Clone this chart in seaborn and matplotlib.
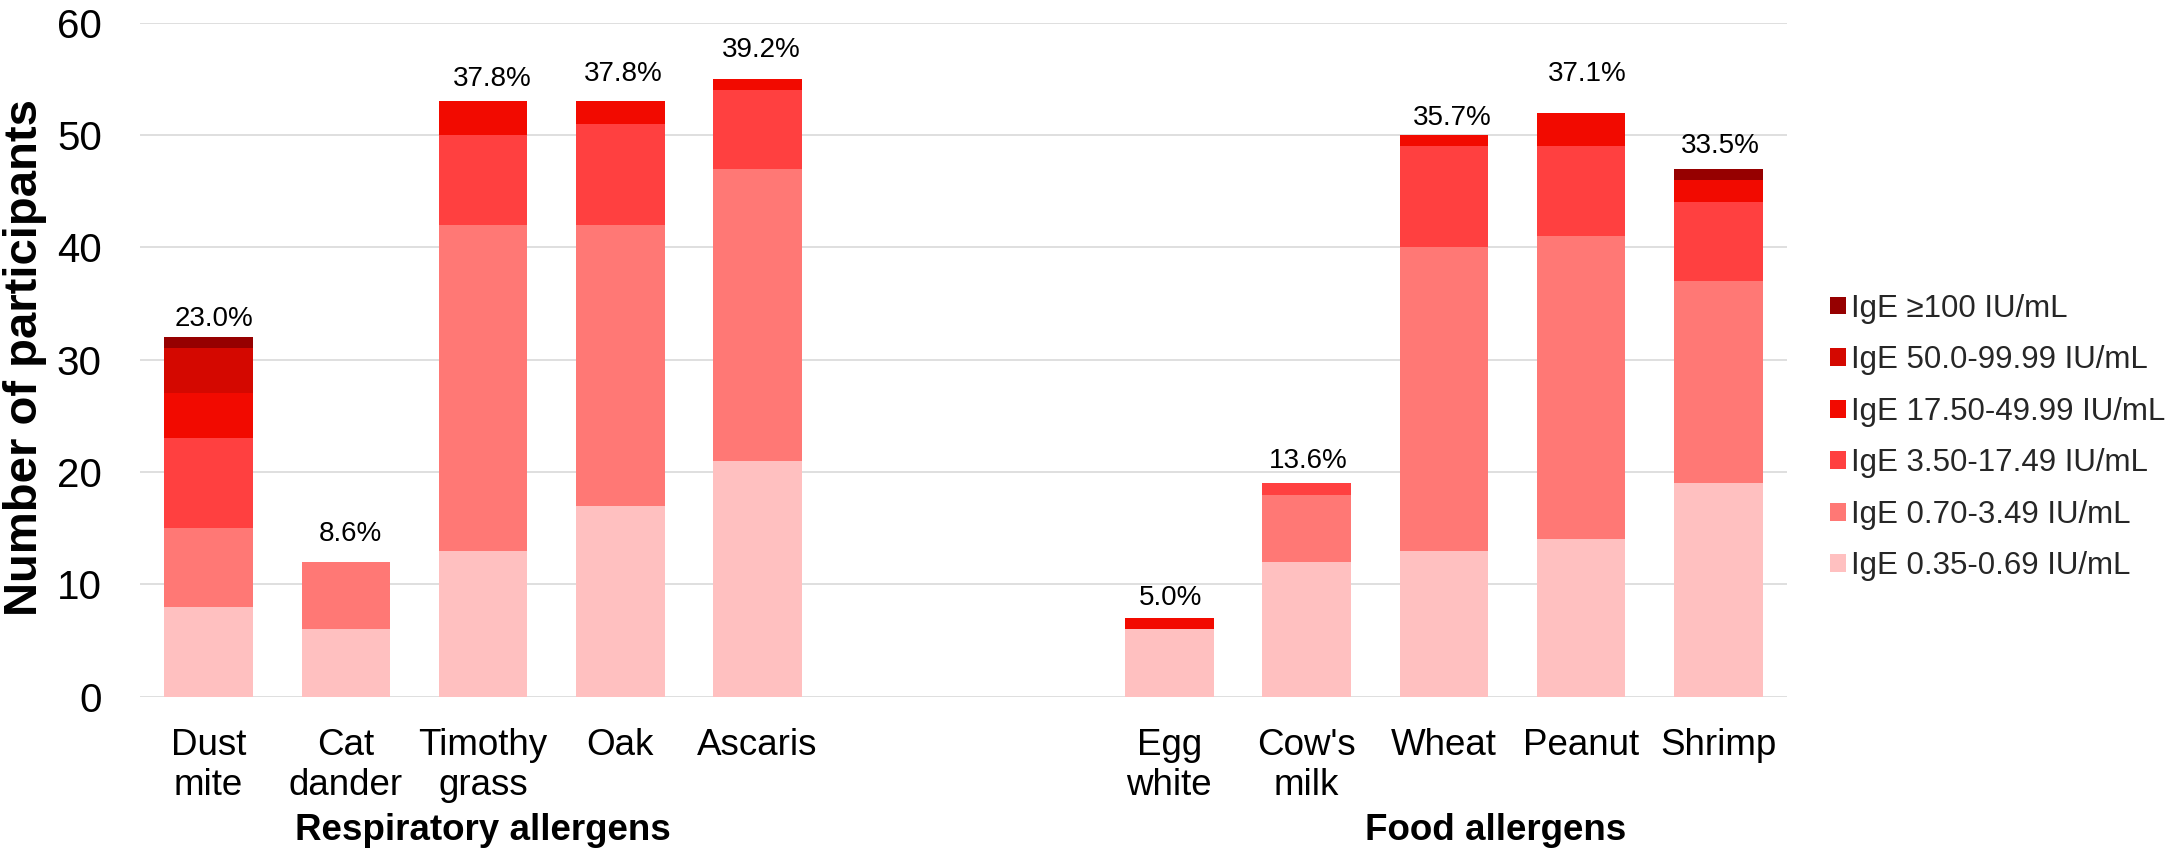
import numpy as np
import pandas as pd
import matplotlib
matplotlib.use("Agg")
import matplotlib.pyplot as plt
from matplotlib.patches import Patch
from matplotlib.transforms import blended_transform_factory
import seaborn as sns

# Allergens (line breaks are part of the axis labels)
respiratory = ["Dust\nmite", "Cat\ndander", "Timothy\ngrass", "Oak", "Ascaris"]
food = ["Egg\nwhite", "Cow's\nmilk", "Wheat", "Peanut", "Shrimp"]
allergens = respiratory + food

# IgE classes, lowest to highest
ige_classes = ["IgE 0.35-0.69 IU/mL", "IgE 0.70-3.49 IU/mL", "IgE 3.50-17.49 IU/mL",
               "IgE 17.50-49.99 IU/mL", "IgE 50.0-99.99 IU/mL", "IgE \u2265100 IU/mL"]

# Number of participants in each IgE class, per allergen
ige_035_069 = [8, 6, 13, 17, 21, 6, 12, 13, 14, 19]
ige_070_349 = [7, 6, 29, 25, 26, 0, 6, 27, 27, 18]
ige_350_1749 = [8, 0, 8, 9, 7, 0, 1, 9, 8, 7]
ige_1750_4999 = [4, 0, 3, 2, 1, 1, 0, 1, 3, 2]
ige_50_9999 = [4, 0, 0, 0, 0, 0, 0, 0, 0, 0]
ige_100_plus = [1, 0, 0, 0, 0, 0, 0, 0, 0, 1]

# Share of sensitized participants per allergen
sensitized_pct = [23.0, 8.6, 37.8, 37.8, 39.2, 5.0, 13.6, 35.7, 37.1, 33.5]

class_counts = [ige_035_069, ige_070_349, ige_350_1749,
                ige_1750_4999, ige_50_9999, ige_100_plus]
class_colors = ["#FFC0C0", "#FF7875", "#FF4040", "#F20A00", "#D40800", "#960000"]

records = []
for cls, counts in zip(ige_classes, class_counts):
    for name, n in zip(allergens, counts):
        records.append({"allergen": name, "ige_class": cls, "count": n})
df = pd.DataFrame(records)
df["ige_class"] = pd.Categorical(df["ige_class"], categories=ige_classes, ordered=True)
df = df.sort_values(["allergen", "ige_class"])
df["cumulative"] = df.groupby("allergen", sort=False)["count"].cumsum()

# two empty slots separate the respiratory and food groups
order = respiratory + [" ", "  "] + food

sns.set_theme(style="white")
plt.rcParams["font.family"] = ["Liberation Sans", "DejaVu Sans"]

W, H = 2169, 851
fig = plt.figure(figsize=(W / 100, H / 100), dpi=100)
ax = fig.add_axes([140 / W, (H - 696.7) / H, (1787 - 140) / W, (696.7 - 22.7) / H])

# stacked bars: draw cumulative totals from the top class down
for cls, color in zip(reversed(ige_classes), reversed(class_colors)):
    sub = df[df["ige_class"] == cls]
    sns.barplot(data=sub, x="allergen", y="cumulative", order=order, color=color,
                saturation=1, width=0.644, errorbar=None, linewidth=0, ax=ax)

# totals annotated with the share of sensitized participants
label_shift_px = [(5, 11.5), (4, 21), (9, 15), (3, 20), (4, 21.5),
                  (1, 13), (2, 15.5), (8, 10.5), (6, 31.5), (2, 16)]
totals = np.sum(np.array(class_counts), axis=0)
for name, total, pct, (dx, dy) in zip(allergens, totals, sensitized_pct, label_shift_px):
    ax.annotate(f"{pct:.1f}%", xy=(order.index(name), total),
                xytext=(dx * 0.72, dy * 0.72), textcoords="offset points",
                ha="center", va="baseline", fontsize=20, color="black")

ax.set_xlim(-0.5, len(order) - 0.5)
ax.set_ylim(0, 60)
ax.set_yticks(np.arange(0, 61, 10))
ax.set_xlabel("")
ax.set_ylabel("")
ax.yaxis.grid(True, color="#D9D9D9", linewidth=1.2)
ax.xaxis.grid(False)
ax.set_axisbelow(True)
for side in ax.spines.values():
    side.set_visible(False)
ax.tick_params(axis="y", length=0, pad=27.5, labelsize=29, labelcolor="black")
ax.tick_params(axis="x", length=0, pad=22.5, labelsize=26.5, labelcolor="black")

# group titles under the category labels
trans = blended_transform_factory(ax.transData, fig.transFigure)
ax.text(2, 11 / H, "Respiratory allergens", transform=trans, ha="center",
        va="baseline", fontsize=26.5, fontweight="bold", color="black")
ax.text(9.38, 11 / H, "Food allergens", transform=trans, ha="center",
        va="baseline", fontsize=26.5, fontweight="bold", color="black")

fig.text(3 / W, (H - 358) / H, "Number of participants", rotation=90,
         ha="left", va="center", fontsize=34, fontweight="bold", color="black")

handles = [Patch(facecolor=c, edgecolor="none", label=l)
           for l, c in zip(reversed(ige_classes), reversed(class_colors))]
ax.legend(handles=handles, loc="center left", bbox_to_anchor=(1830 / W, (H - 437.5) / H),
          bbox_transform=fig.transFigure, frameon=False, fontsize=22.5,
          handlelength=0.5, handleheight=0.5, handletextpad=0.18,
          labelspacing=0.69, borderpad=0, borderaxespad=0)

fig.savefig("out.png", dpi=100)
